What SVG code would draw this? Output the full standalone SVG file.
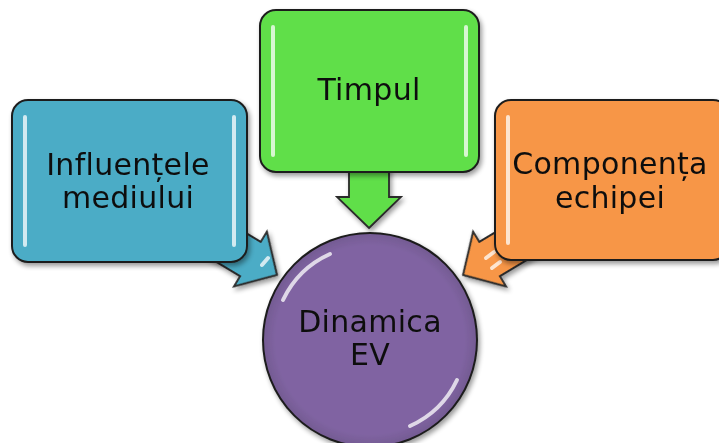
<svg xmlns="http://www.w3.org/2000/svg" width="719" height="443" viewBox="0 0 719 443">
<defs>
<filter id="sh" x="-20%" y="-20%" width="140%" height="140%">
<feGaussianBlur in="SourceAlpha" stdDeviation="2.5"/>
<feOffset dx="2" dy="3" result="b"/>
<feComponentTransfer><feFuncA type="linear" slope="0.4"/></feComponentTransfer>
<feMerge><feMergeNode/><feMergeNode in="SourceGraphic"/></feMerge>
</filter>
<radialGradient id="cg" cx="0.5" cy="0.5" r="0.5">
<stop offset="0.88" stop-color="#000" stop-opacity="0"/>
<stop offset="1" stop-color="#000" stop-opacity="0.1"/>
</radialGradient>
<path id="arr" d="M0,0 L-31,-32 L-31,-20 L-81,-20 L-81,20 L-31,20 L-31,32 Z"/>
</defs>
<style>
.box{stroke:#1e1e1e;stroke-width:2}
.hl{stroke:#ffffff;stroke-opacity:0.75;stroke-width:4;stroke-linecap:round;fill:none}
.arrow{stroke:#2a2a2a;stroke-width:1.8;stroke-linejoin:miter}
.t{font-family:"DejaVu Sans",Verdana,sans-serif;font-size:30px;letter-spacing:0.3px;fill:#111;text-anchor:middle}
</style>
<rect width="719" height="443" fill="#ffffff"/>
<g id="connectors" filter="url(#sh)">
<use href="#arr" class="arrow" fill="#60df4a" transform="translate(369,228) rotate(90)"/>
<use href="#arr" class="arrow" fill="#4bacc6" transform="translate(277,275) rotate(31)"/>
<use href="#arr" class="arrow" fill="#f79646" transform="translate(463,275) rotate(149)"/>
<path d="M268,258 L262,265" class="hl" stroke-width="3"/>
<path d="M486,258 L494,252 M492,268 L500,262" class="hl" stroke-width="4" stroke-linecap="butt"/>
</g>
<g id="node-influentele" filter="url(#sh)">
<rect class="box" x="12" y="100" width="235" height="162" rx="16" fill="#4bacc6"/>
<path class="hl" d="M25,117 V245 M234,117 V245"/>
<text class="t" x="128" y="175">Influențele</text>
<text class="t" x="128" y="208">mediului</text>
</g>
<g id="node-timpul" filter="url(#sh)">
<rect class="box" x="260" y="10" width="219" height="162" rx="16" fill="#60df4a"/>
<path class="hl" d="M273,27 V155 M466,27 V155"/>
<text class="t" x="369" y="100">Timpul</text>
</g>
<g id="node-componenta" filter="url(#sh)">
<rect class="box" x="495" y="100" width="234" height="160" rx="16" fill="#f79646"/>
<path class="hl" d="M508,117 V243"/>
<text class="t" x="610" y="174">Componența</text>
<text class="t" x="610" y="208">echipei</text>
</g>
<g id="node-dinamica" filter="url(#sh)">
<circle class="box" cx="370" cy="340" r="107" fill="#8064a2"/>
<circle cx="370" cy="340" r="107" fill="url(#cg)"/>
<path class="hl" stroke-width="3" stroke-opacity="0.55" d="M283,300 A95,95 0 0 1 330,254"/>
<path class="hl" stroke-width="3" stroke-opacity="0.55" d="M457,380 A95,95 0 0 1 410,426"/>
<text class="t" x="370" y="332">Dinamica</text>
<text class="t" x="370" y="365">EV</text>
</g>
</svg>
